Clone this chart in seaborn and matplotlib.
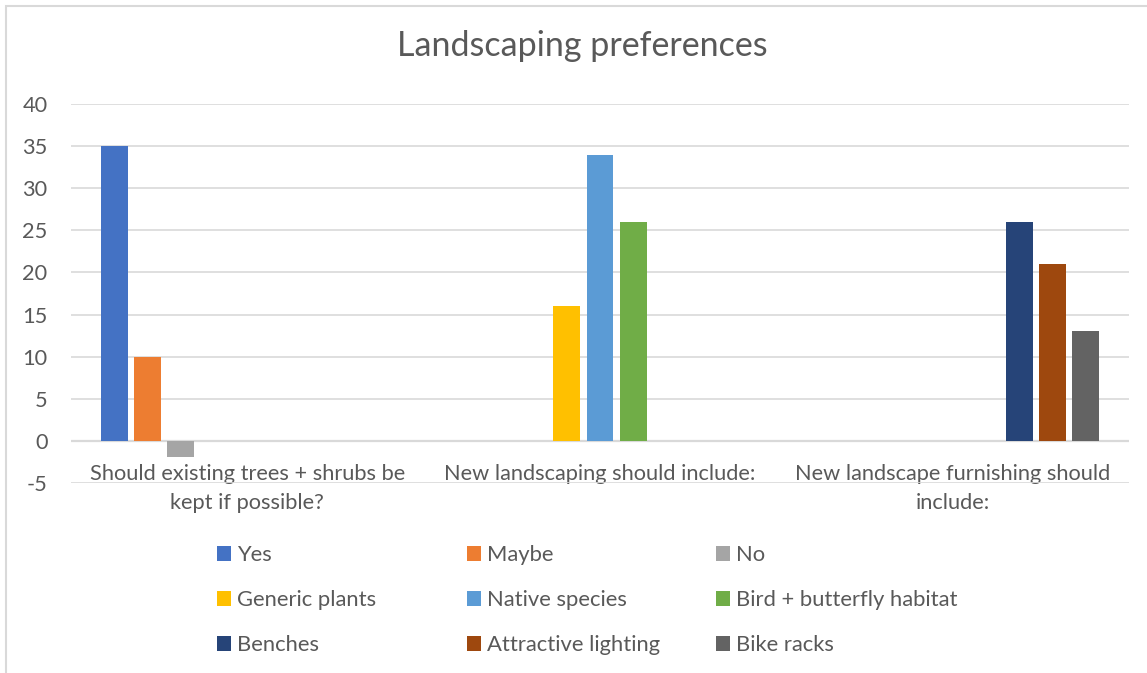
import matplotlib
matplotlib.use("Agg")
import matplotlib.pyplot as plt
import seaborn as sns
import pandas as pd
from matplotlib.patches import Rectangle, Patch

# Survey questions (x categories)
categories = [
    "Should existing trees + shrubs be\nkept if possible?",
    "New landscaping should include:",
    "New landscape furnishing should\ninclude:",
]
# Answer options, each belonging to one question
series = [
    "Yes", "Maybe", "No",
    "Generic plants", "Native species", "Bird + butterfly habitat",
    "Benches", "Attractive lighting", "Bike racks",
]
series_question = [0, 0, 0, 1, 1, 1, 2, 2, 2]
counts = [35, 10, -2, 16, 34, 26, 26, 21, 13]
colors = [
    "#4472C4", "#ED7D31", "#A5A5A5",
    "#FFC000", "#5B9BD5", "#70AD47",
    "#264478", "#9E480E", "#636363",
]
y_ticks = [-5, 0, 5, 10, 15, 20, 25, 30, 35, 40]

df = pd.DataFrame({
    "question": [categories[i] for i in series_question],
    "answer": series,
    "count": counts,
})

sns.set_theme(style="white")
plt.rcParams["font.family"] = ["Lato", "DejaVu Sans"]
TEXT = "#595959"
GRID = "#D9D9D9"
FS = 15.7

W, H = 1147, 673
fig = plt.figure(figsize=(W / 100, H / 100), dpi=100)
ax = fig.add_axes([71 / W, 1 - 482.7 / H, (1129 - 71) / W, (482.7 - 104.3) / H])

sns.barplot(
    data=df, x="question", y="count", hue="answer",
    order=categories, hue_order=series, palette=colors, saturation=1,
    width=0.85, gap=0.19, dodge=True, linewidth=0,
    legend=False, ax=ax, zorder=3,
)

ax.set_ylim(-5, 40)
ax.set_xlim(-0.5, 2.5)
ax.set_yticks(y_ticks)
ax.set_yticklabels([str(t) for t in y_ticks])
ax.yaxis.grid(True, color=GRID, linewidth=1.2, zorder=0)
ax.axhline(0, color=GRID, linewidth=1.6, zorder=2)

# category axis crosses at zero, so its labels hang just below the zero line
ax.spines["bottom"].set_position(("data", 0))
for s in ax.spines.values():
    s.set_visible(False)
ax.set_xlabel("")
ax.set_ylabel("")
ax.tick_params(axis="y", length=0, pad=17, labelsize=FS, labelcolor=TEXT)
ax.tick_params(axis="x", length=0, pad=16.5, labelsize=FS, labelcolor=TEXT)
for lbl in ax.get_xticklabels():
    lbl.set_linespacing(1.6)

# Title
fig.text(582.5 / W, 1 - 56 / H, "Landscaping preferences", ha="center", va="baseline",
         fontsize=24.5, color=TEXT)

# Legend: three columns of three entries
col_x = [217, 467, 716]
for c in range(3):
    handles = [Patch(facecolor=colors[r * 3 + c], edgecolor="none") for r in range(3)]
    labels = [series[r * 3 + c] for r in range(3)]
    fig.legend(handles, labels, loc="center left",
               bbox_to_anchor=(col_x[c] / W, 1 - 600 / H), bbox_transform=fig.transFigure,
               frameon=False, fontsize=15.8, labelcolor=TEXT, borderpad=0, borderaxespad=0,
               handlelength=0.64, handleheight=0.64, handletextpad=0.27, labelspacing=1.14)

# Chart area border
fig.patches.append(Rectangle((6 / W, -0.05), 1.1, 1 - 6 / H + 0.05, transform=fig.transFigure,
                             facecolor="none", edgecolor=GRID, linewidth=1.5))

fig.savefig("out.png", dpi=100)
